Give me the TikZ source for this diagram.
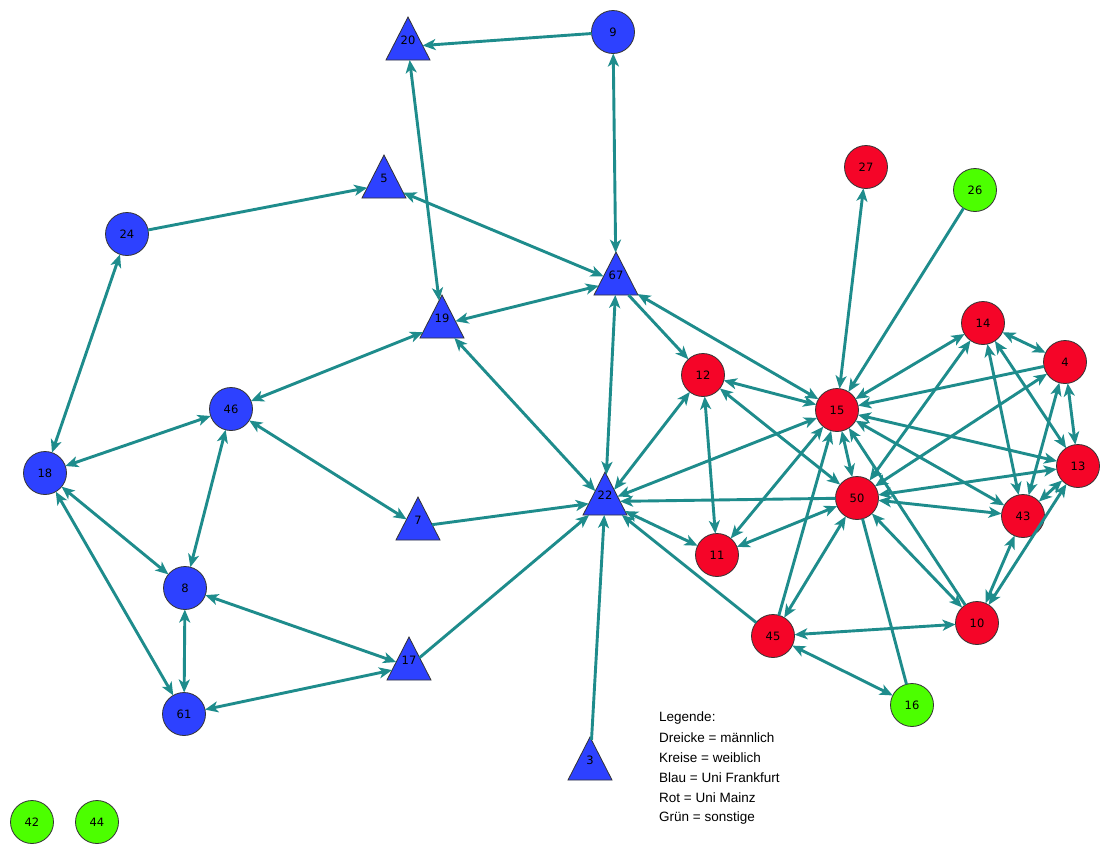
\documentclass[tikz,border=0pt]{standalone}
\usepackage{fontspec}
\setmainfont{Liberation Sans}
\newfontfamily\nodefont{DejaVu Sans}
\usetikzlibrary{shapes.geometric,arrows.meta}
\definecolor{nblue}{RGB}{45,65,255}
\definecolor{nred}{RGB}{245,5,40}
\definecolor{ngreen}{RGB}{76,255,0}
\definecolor{edgec}{RGB}{30,140,140}
\tikzset{
  circ/.style={circle, minimum size=43pt, inner sep=0pt, outer sep=0pt, draw=black!80, line width=0.8pt, font=\nodefont\fontsize{11.5}{13}\selectfont},
  bnode/.style={circ, fill=nblue},
  rnode/.style={circ, fill=nred},
  gnode/.style={circ, fill=ngreen},
  tri/.style={isosceles triangle, isosceles triangle stretches, shape border rotate=90, minimum width=44pt, minimum height=43pt, inner sep=0pt, outer sep=0pt, draw=black!80, line width=0.8pt, fill=nblue, anchor=apex},
  tlbl/.style={inner sep=0pt, font=\nodefont\fontsize{11.5}{13}\selectfont},
  edge/.style={draw=edgec, line width=2.9pt},
  one/.style={edge, -{Stealth[length=13pt,width=11pt,inset=3.5pt]}},
  bi/.style={edge, {Stealth[length=13pt,width=11pt,inset=3.5pt]}-{Stealth[length=13pt,width=11pt,inset=3.5pt]}},
  plain/.style={edge},
  leg/.style={anchor=west, inner sep=0pt, font=\fontsize{13.5}{16}\selectfont}
}
\begin{document}
\begin{tikzpicture}[x=1pt,y=-1pt]
\useasboundingbox[fill=white] (0,0) rectangle (1110,855);
% triangles
\node[tri] (n20) at (408,17) {};
\node[tri] (n5) at (384,155) {};
\node[tri] (n67) at (616,252) {};
\node[tri] (n19) at (442,295) {};
\node[tri] (n7) at (418,497) {};
\node[tri] (n22) at (605,472) {};
\node[tri] (n17) at (409,637) {};
\node[tri] (n3) at (590,737) {};
\foreach \n/\x/\y in {20/408/17,5/384/155,67/616/252,19/442/295,7/418/497,22/605/472,17/409/637,3/590/737}{
  \node[tlbl] (l\n) at (\x,\y+23) {\n};
}
% circles
\node[bnode] (n9) at (613,32) {9};
\node[bnode] (n24) at (127,234) {24};
\node[bnode] (n46) at (231,409) {46};
\node[bnode] (n18) at (45,473) {18};
\node[bnode] (n8) at (185,588) {8};
\node[bnode] (n61) at (184,714) {61};
\node[rnode] (n27) at (866,167) {27};
\node[gnode] (n26) at (975,190) {26};
\node[rnode] (n14) at (983,323) {14};
\node[rnode] (n4) at (1065,362) {4};
\node[rnode] (n12) at (703,375) {12};
\node[rnode] (n15) at (837,410) {15};
\node[rnode] (n13) at (1078,466) {13};
\node[rnode] (n50) at (857,498) {50};
\node[rnode] (n43) at (1023,516) {43};
\node[rnode] (n11) at (717,555) {11};
\node[rnode] (n10) at (977,623) {10};
\node[rnode] (n45) at (773,636) {45};
\node[gnode] (n16) at (912,705) {16};
\node[gnode] (n42) at (32,822) {42};
\node[gnode] (n44) at (97,822) {44};
% edges
\draw[one] (n9) -- (n20);
\draw[bi] (n9) -- (n67);
\draw[bi] (n20) -- (n19);
\draw[one] (n24) -- (n5);
\draw[bi] (n5) -- (n67);
\draw[bi] (n19) -- (n67);
\draw[bi] (n46) -- (n19);
\draw[bi] (n24) -- (n18);
\draw[bi] (n18) -- (n46);
\draw[bi] (n46) -- (n7);
\draw[bi] (n46) -- (n8);
\draw[bi] (n18) -- (n8);
\draw[bi] (n18) -- (n61);
\draw[bi] (n8) -- (n61);
\draw[bi] (n8) -- (n17);
\draw[bi] (n61) -- (n17);
\draw[one] (n7) -- (n22);
\draw[one] (n17) -- (n22);
\draw[one] (n3) -- (n22);
\draw[bi] (n19) -- (n22);
\draw[bi] (n67) -- (n22);
\draw[one] (n67) -- (n12);
\draw[bi] (n67) -- (n15);
\draw[bi] (n12) -- (n22);
\draw[bi] (n12) -- (n15);
\draw[bi] (n12) -- (n11);
\draw[bi] (n12) -- (n50);
\draw[bi] (n15) -- (n22);
\draw[one] (n50) -- (n22);
\draw[bi] (n22) -- (n11);
\draw[one] (n45) -- (n22);
\draw[bi] (n15) -- (n11);
\draw[bi] (n50) -- (n11);
\draw[bi] (n27) -- (n15);
\draw[one] (n26) -- (n15);
\draw[bi] (n15) -- (n14);
\draw[one] (n4) -- (n15);
\draw[bi] (n14) -- (n4);
\draw[bi] (n14) -- (n43);
\draw[bi] (n14) -- (n13);
\draw[bi] (n4) -- (n13);
\draw[bi] (n4) -- (n43);
\draw[bi] (n50) -- (n14);
\draw[bi] (n50) -- (n4);
\draw[bi] (n15) -- (n13);
\draw[bi] (n15) -- (n43);
\draw[bi] (n15) -- (n50);
\draw[one] (n10) -- (n15);
\draw[bi] (n50) -- (n10);
\draw[bi] (n43) -- (n10);
\draw[bi] (n13) -- (n10);
\draw[bi] (n13) -- (n43);
\draw[bi] (n50) -- (n43);
\draw[bi] (n50) -- (n13);
\draw[bi] (n45) -- (n50);
\draw[one] (n45) -- (n15);
\draw[bi] (n45) -- (n10);
\draw[bi] (n45) -- (n16);
\draw[plain] (n16) -- (n50);
% legend
\node[leg] (lg1) at (659,718) {Legende:};
\node[leg] (lg2) at (659,738) {Dreicke = männlich};
\node[leg] (lg3) at (659,758) {Kreise = weiblich};
\node[leg] (lg4) at (659,778) {Blau = Uni Frankfurt};
\node[leg] (lg5) at (659,798) {Rot = Uni Mainz};
\node[leg] (lg6) at (659,818) {Grün = sonstige};
\end{tikzpicture}
\end{document}
